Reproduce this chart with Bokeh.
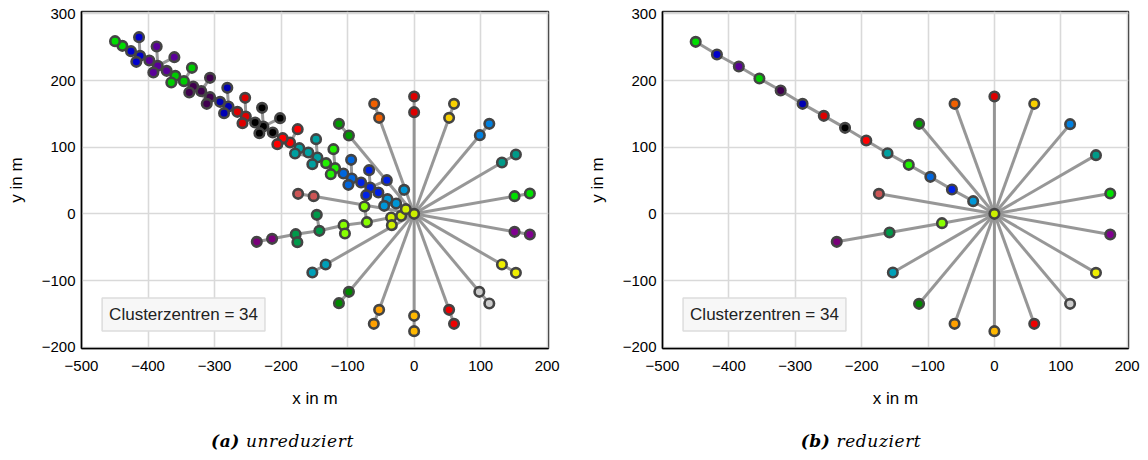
from bokeh.plotting import figure
from bokeh.layouts import row, column
from bokeh.models import FixedTicker, Label, Range1d, ColumnDataSource, Div
from bokeh.embed import file_html
from bokeh.resources import INLINE

# ---------------- data: left panel (unreduziert) ----------------
# node 0 = centre; spokes (inner, outer) pairs; 190-degree branch; diagonal chain
ux = [0,
      0, 0, -52.6, -60, 52.6, 60, -98, -113, 98.8, 113, 132, 153, 151, 174, 151, 174,
      132, 153, 98, 113, 52.6, 60, 0, 0, -52.6, -60.6, -98, -113, -133, -153, -151, -174.4,
      -34.6, -33.5, -19.5, -12.5, -71, -74.7, -106, -104, -142.4, -146.3, -178, -175.5, -213.5, -236.5,
      -27, -15, -40, -45,
      -66, -67.7, -79.7, -72, -41, -53.7,
      -93.7, -94.7, -106.3, -98.8,
      -118.8, -121.3, -132.3, -125.3,
      -145.4, -147.4, -172.5, -179, -159, -153,
      -186.5, -175, -197.5, -205.6,
      -226.6, -228.6, -239, -232.6, -201.5, -212.5,
      -253, -254, -265.7, -258,
      -279, -280.8, -291.7, -285.7,
      -320, -306.8, -332, -338, -306.8, -311.7,
      -346, -334, -359, -365,
      -385.4, -387, -398, -392, -372, -360.4,
      -412, -413.5, -425.6, -417.6,
      -438.6, -449.6]
uy = [0,
      152.5, 176, 144, 165, 144, 165, 117.5, 135, 118, 135, 77, 89, 26.5, 30.5, -27, -31,
      -76, -88.5, -117, -134.5, -144, -165, -153, -176, -144, -165, -117, -134, -76, -88, 26.5, 30,
      -5.5, -17, -3, 7, -12.5, 11, -17, -29.5, -25.5, -1.5, -30.5, -42.5, -37.5, -42,
      15.5, 36, 22, 12,
      39.5, 65.5, 47, 28, 50.5, 32,
      53, 81, 60.5, 43.5,
      68.5, 97, 76, 59.5,
      84.5, 112, 98.5, 90.5, 92, 74.5,
      107, 127, 113.5, 104.5,
      131, 159, 137, 121, 143.5, 122,
      146, 174, 153, 136,
      161, 189, 168, 151,
      184, 204, 191, 182, 175, 165,
      199, 219, 207, 197,
      222, 251, 230, 212, 214.5, 235,
      237, 265, 244, 228,
      252, 259]
ucol = ["#ccee00",
        "#dd0000", "#dd0000", "#f06000", "#f06000", "#f8d000", "#f8d000", "#009a00", "#009a00",
        "#0080e0", "#0080e0", "#009a88", "#009a88", "#00e000", "#00e000", "#800090", "#800090",
        "#eeee00", "#eeee00", "#cccccc", "#cccccc", "#ee0000", "#ee0000", "#ffb800", "#ffb800",
        "#ffa000", "#ffa000", "#008800", "#008800", "#00a0b8", "#00a0b8", "#cc5555", "#cc5555",
        "#d0f000", "#d0f000", "#d0f000", "#d0f000", "#88ff00", "#88ff00", "#88ff00", "#88ff00",
        "#00994a", "#00994a", "#00994a", "#00994a", "#7a007a", "#7a007a"] + \
       ["#0096d6"] * 4 + ["#0022e6"] * 6 + ["#0066dd"] * 4 + ["#22f000"] * 4 + \
       ["#00a0a0"] * 6 + ["#ff0000"] * 4 + ["#000000"] * 6 + ["#dd0000"] * 4 + \
       ["#0000b4"] * 4 + ["#40004f"] * 6 + ["#00cc00"] * 4 + ["#5a0099"] * 6 + \
       ["#0000cc"] * 4 + ["#00dd00"] * 2
upar = [-1,
        0, 1, 0, 3, 0, 5, 0, 7, 0, 9, 0, 11, 0, 13, 0, 15,
        0, 17, 0, 19, 0, 21, 0, 23, 0, 25, 0, 27, 0, 29, 0, 31,
        0, 33, 0, 0, 33, 37, 37, 39, 39, 41, 41, 43, 43, 45,
        0, 47, 47, 47,
        47, 51, 51, 51, 51, 51,
        51, 57, 57, 57,
        57, 61, 61, 61,
        61, 65, 65, 65, 65, 65,
        65, 71, 71, 71,
        71, 75, 75, 75, 75, 75,
        75, 81, 81, 81,
        81, 85, 85, 85,
        85, 89, 89, 89, 89, 89,
        89, 95, 95, 95,
        95, 99, 99, 99, 99, 99,
        99, 105, 105, 105,
        105, 109]

# ---------------- data: right panel (reduziert) ----------------
rx = [0, -32, -64, -96.5, -129, -161, -193, -225, -257, -289, -322, -354, -385, -418, -450,
      0, -60, 60, -113.5, 114, 153, 174.5, 174.5, 153, 114, 60, 0, -60, -113.5, -153, -174,
      -79, -158, -237.5]
ry = [0, 19, 36.5, 55.5, 73.5, 91, 110, 129, 147, 165, 185, 203, 221, 239, 258,
      176, 165, 165, 135, 134.5, 88, 30.5, -31, -88.5, -135, -165, -176, -165, -135, -88, 30,
      -14, -28, -42]
rcol = ["#ccee00", "#0096d6", "#0022e6", "#0066dd", "#22f000", "#00a0a0", "#ff0000", "#000000",
        "#dd0000", "#0000b4", "#40004f", "#00cc00", "#5a0099", "#0000cc", "#00dd00",
        "#dd0000", "#f06000", "#f8d000", "#009a00", "#0080e0", "#009a88", "#00e000", "#800090",
        "#eeee00", "#cccccc", "#ee0000", "#ffb800", "#ffa000", "#008800", "#00a0b8", "#cc5555",
        "#88ff00", "#00994a", "#7a007a"]
rpar = [-1, 0, 1, 2, 3, 4, 5, 6, 7, 8, 9, 10, 11, 12, 13,
        0, 0, 0, 0, 0, 0, 0, 0, 0, 0, 0, 0, 0, 0, 0, 0,
        0, 31, 32]

x_ticks = [-500, -400, -300, -200, -100, 0, 100, 200]
y_ticks = [-200, -100, 0, 100, 200, 300]
legend_text = "Clusterzentren = 34"
cap_tags = ["(a)", "(b)"]
cap_texts = ["unreduziert", "reduziert"]

MINUS = "\u2212"


def make_panel(xs, ys, cols, pars, width, b_left, b_right):
    p = figure(width=width, height=418, output_backend="svg", toolbar_location=None,
               min_border_left=b_left, min_border_right=b_right, min_border_top=11,
               min_border_bottom=70, x_range=Range1d(-500, 202), y_range=Range1d(-202, 303.5))
    p.background_fill_color = "white"
    p.border_fill_color = "white"
    p.outline_line_color = "#333333"
    p.outline_line_width = 1.5

    for ax, ticks in ((p.xaxis[0], x_ticks), (p.yaxis[0], y_ticks)):
        ax.ticker = FixedTicker(ticks=ticks)
        ax.major_label_overrides = {t: (MINUS + str(-t) if t < 0 else str(t)) for t in ticks}
        ax.major_tick_out = 0
        ax.major_tick_in = 0
        ax.minor_tick_out = 0
        ax.minor_tick_in = 0
        ax.axis_line_color = "black"
        ax.axis_line_width = 1.5
        ax.major_label_text_font = "Liberation Sans"
        ax.major_label_text_font_size = "15px"
        ax.major_label_text_color = "black"
        ax.axis_label_text_font = "Liberation Sans"
        ax.axis_label_text_font_size = "17px"
        ax.axis_label_text_font_style = "normal"
        ax.axis_label_text_color = "black"
    p.xaxis.axis_label = "x in m"
    p.yaxis.axis_label = "y in m"
    p.xaxis.major_label_standoff = 12
    p.xaxis.axis_label_standoff = 15
    p.yaxis.major_label_standoff = 6
    p.yaxis.axis_label_standoff = 13

    p.xgrid.ticker = FixedTicker(ticks=x_ticks)
    p.ygrid.ticker = FixedTicker(ticks=y_ticks)
    p.grid.grid_line_color = "#d9d9d9"
    p.grid.grid_line_width = 1.6

    x0, y0, x1, y1 = [], [], [], []
    for i, par in enumerate(pars):
        if par >= 0:
            x0.append(xs[par]); y0.append(ys[par]); x1.append(xs[i]); y1.append(ys[i])
    p.segment(x0=x0, y0=y0, x1=x1, y1=y1, line_color="#8c8c8c", line_width=3, line_alpha=0.9)

    src = ColumnDataSource(dict(x=xs, y=ys, c=cols))
    p.scatter("x", "y", source=src, size=9.5, fill_color="c", line_color="#444444", line_width=2.6)

    p.add_layout(Label(x=-469, y=-151, text=legend_text, text_font="Liberation Sans",
                       text_font_size="17px", text_color="#222222", text_baseline="middle",
                       text_align="left", padding=7, background_fill_color="#f7f7f7",
                       border_line_color="#dddddd", border_line_width=1.5))
    return p


def make_caption(tag, text, width, shift):
    html = ('<span style="font-weight:bold;font-style:italic">%s</span>'
            '&nbsp;<span style="font-style:italic">%s</span>' % (tag, text))
    return Div(text=html, width=width, height=42, margin=0,
               styles={"font-family": "DejaVu Serif", "font-size": "17px", "color": "black",
                       "letter-spacing": "0.6px",
                       "text-align": "center", "padding-top": "13px",
                       "padding-left": "%dpx" % max(shift, 0),
                       "padding-right": "%dpx" % max(-shift, 0),
                       "box-sizing": "border-box", "width": "%dpx" % width,
                       "line-height": "20px"})


left = make_panel(ux, uy, ucol, upar, 581, 81, 33)
right = make_panel(rx, ry, rcol, rpar, 567, 81, 20)
cap_left = make_caption(cap_tags[0], cap_texts[0], 581, -16)
cap_right = make_caption(cap_tags[1], cap_texts[1], 567, -7)

layout = row(column(left, cap_left, spacing=0), column(right, cap_right, spacing=0), spacing=0)
open("out.html", "w").write(file_html(layout, INLINE))
